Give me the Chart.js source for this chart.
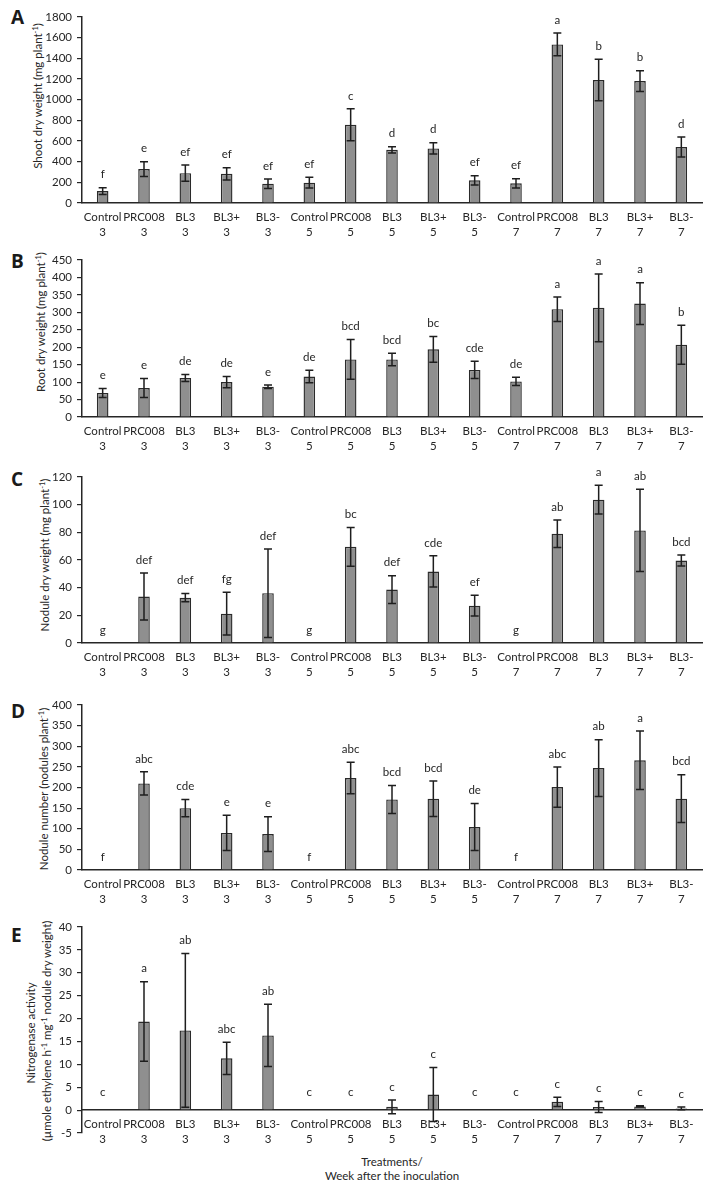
<!DOCTYPE html>
<html>
<head>
<meta charset="utf-8">
<script src="https://cdn.jsdelivr.net/npm/chart.js@4.4.1/dist/chart.umd.min.js"></script>
<style>
  html, body { margin: 0; padding: 0; background: #fff; }
  body { width: 712px; height: 1190px; position: relative; overflow: hidden; font-family: Lato, "Open Sans", sans-serif; color: #262626; }
  canvas { position: absolute; left: 0; }
  .letter { position: absolute; left: 11px; font: bold 19px "Open Sans", sans-serif; line-height: 20px; color: #1a1a1a; }
  .ytitle { position: absolute; font-size: 11.5px; white-space: nowrap; transform: translate(-50%, -50%) rotate(-90deg); }
  .ytitle sup { font-size: 7.5px; vertical-align: 4px; line-height: 0; }
  .xtitle { position: absolute; left: 292px; width: 200px; text-align: center; font-size: 11.5px; line-height: 14px; }
</style>
</head>
<body>
<div class="letter" style="top:7px">A</div>
<div class="letter" style="top:251px">B</div>
<div class="letter" style="top:469px">C</div>
<div class="letter" style="top:701px">D</div>
<div class="letter" style="top:925px">E</div>

<div class="ytitle" style="left:37px; top:96px">Shoot dry weight (mg plant<sup>-1</sup>)</div>
<div class="ytitle" style="left:40px; top:322px">Root dry weight (mg plant<sup>-1</sup>)</div>
<div class="ytitle" style="left:44px; top:555px">Nodule dry weight (mg plant<sup>-1</sup>)</div>
<div class="ytitle" style="left:43px; top:789px">Nodule number (nodules plant<sup>-1</sup>)</div>
<div class="ytitle" style="left:30px; top:1033px">Nitrogenase activity</div>
<div class="ytitle" style="left:46px; top:1031px">(µmole ethylene h<sup>-1</sup> mg<sup>-1</sup> nodule dry weight)</div>

<div class="xtitle" style="top:1155px">Treatments/<br>Week after the inoculation</div>

<canvas id="chartA" width="712" height="245" style="top:0px"></canvas>
<canvas id="chartB" width="712" height="217" style="top:245px"></canvas>
<canvas id="chartC" width="712" height="228" style="top:462px"></canvas>
<canvas id="chartD" width="712" height="225" style="top:690px"></canvas>
<canvas id="chartE" width="712" height="275" style="top:915px"></canvas>

<script>
// treatments and week after inoculation (x axis)
const treatments = ["Control", "PRC008", "BL3", "BL3+", "BL3-", "Control", "PRC008", "BL3", "BL3+", "BL3-", "Control", "PRC008", "BL3", "BL3+", "BL3-"];
const weeks = ["3", "3", "3", "3", "3", "5", "5", "5", "5", "5", "7", "7", "7", "7", "7"];

// A - shoot dry weight
const shootTicks = [0, 200, 400, 600, 800, 1000, 1200, 1400, 1600, 1800];
const shootMeans = [115, 328, 289, 282, 187, 197, 757, 515, 528, 219, 190, 1535, 1190, 1180, 541];
const shootErrors = [33, 72, 78, 59, 46, 52, 154, 30, 55, 45, 45, 110, 200, 100, 97];
const shootLetters = ["f", "e", "ef", "ef", "ef", "ef", "c", "d", "d", "ef", "ef", "a", "b", "b", "d"];

// B - root dry weight
const rootTicks = [0, 50, 100, 150, 200, 250, 300, 350, 400, 450];
const rootMeans = [69, 83, 112, 100, 87, 116, 165, 165, 194, 135, 102, 309, 313, 325, 207];
const rootErrors = [13, 27, 10, 16, 5, 18, 57, 18, 37, 25, 12, 35, 97, 60, 56];
const rootLetters = ["e", "e", "de", "de", "e", "de", "bcd", "bcd", "bc", "cde", "de", "a", "a", "a", "b"];

// C - nodule dry weight
const noduleWtTicks = [0, 20, 40, 60, 80, 100, 120];
const noduleWtMeans = [0, 33.6, 32.8, 21.2, 36, 0, 69.5, 38.6, 51.7, 27, 0, 79, 103.6, 81.4, 59.6];
const noduleWtErrors = [0, 17, 3, 15.5, 32, 0, 14, 10, 11.3, 7.5, 0, 10, 10.4, 29.7, 4];
const noduleWtLetters = ["g", "def", "def", "fg", "def", "g", "bc", "def", "cde", "ef", "g", "ab", "a", "ab", "bcd"];

// D - nodule number
const noduleNoTicks = [0, 50, 100, 150, 200, 250, 300, 350, 400];
const noduleNoMeans = [0, 210, 150, 90, 87, 0, 223, 171, 173, 104, 0, 201, 247, 266, 173];
const noduleNoErrors = [0, 28, 21, 43, 42, 0, 38, 34, 43, 57, 0, 49, 69, 71, 58];
const noduleNoLetters = ["f", "abc", "cde", "e", "e", "f", "abc", "bcd", "bcd", "de", "f", "abc", "ab", "a", "bcd"];

// E - nitrogenase activity
const nitroTicks = [-5, 0, 5, 10, 15, 20, 25, 30, 35, 40];
const nitroMeans = [0, 19.35, 17.4, 11.3, 16.3, 0, 0, 0.72, 3.4, 0, 0, 1.8, 0.7, 0.8, 0.36];
const nitroErrors = [0, 8.7, 16.8, 3.5, 6.8, 0, 0, 1.5, 5.9, 0, 0, 1.0, 1.2, 0.15, 0.3];
const nitroLetters = ["c", "a", "ab", "abc", "ab", "c", "c", "c", "c", "c", "c", "c", "c", "c", "c"];

Chart.defaults.font.family = "Lato, 'Open Sans', sans-serif";
Chart.defaults.font.size = 11.5;
Chart.defaults.color = "#262626";

const labels = treatments.map((t, i) => [t, weeks[i]]);

// error bars + significance letters, drawn over the bars
const errorBarPlugin = {
  id: "errorBars",
  afterDatasetsDraw(chart, args, opts) {
    const ctx = chart.ctx;
    const y = chart.scales.y;
    const meta = chart.getDatasetMeta(0);
    const values = chart.data.datasets[0].data;
    ctx.save();
    ctx.strokeStyle = "#1e1e1e";
    ctx.lineWidth = 1.5;
    meta.data.forEach((bar, i) => {
      const e = opts.errors[i];
      if (!e) return;
      const top = y.getPixelForValue(values[i] + e);
      const bot = y.getPixelForValue(values[i] - e);
      ctx.beginPath();
      ctx.moveTo(bar.x, top); ctx.lineTo(bar.x, bot);
      ctx.moveTo(bar.x - 4, top); ctx.lineTo(bar.x + 4, top);
      ctx.moveTo(bar.x - 4, bot); ctx.lineTo(bar.x + 4, bot);
      ctx.stroke();
    });
    ctx.fillStyle = "#262626";
    ctx.font = "11.5px Lato, 'Open Sans', sans-serif";
    ctx.textAlign = "center";
    ctx.textBaseline = "middle";
    meta.data.forEach((bar, i) => {
      const e = opts.errors[i] || 0;
      const top = y.getPixelForValue(values[i] + e);
      const gap = (values[i] === 0 && opts.zeroGap) ? opts.zeroGap : 13;
      ctx.fillText(opts.letters[i], bar.x, top - gap);
    });
    ctx.restore();
  }
};

function makeChart(id, cfg) {
  const ticks = cfg.ticks;
  const xScale = {
    offset: true,
    grid: { display: false, drawTicks: false },
    border: { display: true, color: "#262626", width: 1.5 },
    ticks: {
      padding: 7,
      autoSkip: false,
      maxRotation: 0,
      font: { size: 11.5, lineHeight: 1.28 }
    },
    afterFit: (scale) => { if (cfg.xHeight) scale.height = cfg.xHeight; }
  };
  if (cfg.xAtZero) xScale.position = { y: 0 };

  return new Chart(document.getElementById(id), {
    type: "bar",
    data: {
      labels,
      datasets: [{
        data: cfg.means,
        backgroundColor: "#8f8f8f",
        borderColor: "#2a2a2a",
        borderWidth: 1.4,
        barPercentage: 0.28,
        categoryPercentage: 1
      }]
    },
    options: {
      responsive: false,
      animation: false,
      events: [],
      layout: { padding: { top: cfg.padTop, right: 10, bottom: cfg.padBottom || 0, left: 0 } },
      plugins: {
        legend: { display: false },
        tooltip: { enabled: false },
        errorBars: { errors: cfg.errors, letters: cfg.letters, zeroGap: cfg.zeroGap }
      },
      scales: {
        x: xScale,
        y: {
          min: ticks[0],
          max: ticks[ticks.length - 1],
          grid: { display: true, drawOnChartArea: false, drawTicks: true, tickLength: 5, color: "#262626", lineWidth: 1.2 },
          border: { display: true, color: "#262626", width: 1.5 },
          ticks: {
            stepSize: ticks[1] - ticks[0],
            padding: 5,
            font: { size: 11.5 },
            callback: (v) => String(v)
          },
          afterFit: (scale) => { scale.width = 82; }
        }
      }
    },
    plugins: [errorBarPlugin]
  });
}

makeChart("chartA", { ticks: shootTicks, means: shootMeans, errors: shootErrors, letters: shootLetters, padTop: 17, xHeight: 42 });
makeChart("chartB", { ticks: rootTicks, means: rootMeans, errors: rootErrors, letters: rootLetters, padTop: 15, xHeight: 45 });
makeChart("chartC", { ticks: noduleWtTicks, means: noduleWtMeans, errors: noduleWtErrors, letters: noduleWtLetters, padTop: 15, xHeight: 47 });
makeChart("chartD", { ticks: noduleNoTicks, means: noduleNoMeans, errors: noduleNoErrors, letters: noduleNoLetters, padTop: 15, xHeight: 45 });
makeChart("chartE", { ticks: nitroTicks, means: nitroMeans, errors: nitroErrors, letters: nitroLetters, padTop: 10, padBottom: 57, xAtZero: true, zeroGap: 18 });
</script>
</body>
</html>
